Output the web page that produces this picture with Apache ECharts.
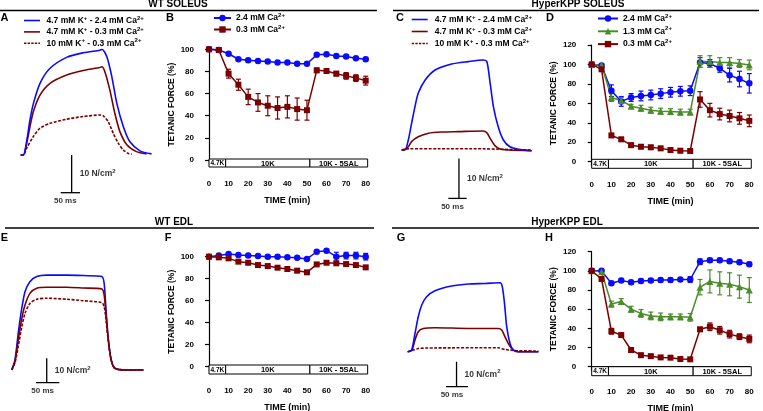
<!DOCTYPE html>
<html>
<head>
<meta charset="utf-8">
<script src="https://cdn.jsdelivr.net/npm/echarts@6/dist/echarts.min.js"></script>
<style>
  html, body { margin: 0; padding: 0; background: #fff; }
  #chart { width: 763px; height: 411px; }
</style>
</head>
<body>
<div id="chart"></div>
<script>
// --- summary data (time course, % of initial tetanic force) ---
var times = [0, 5, 10, 15, 20, 25, 30, 35, 40, 45, 50, 55, 60, 65, 70, 75, 80];

var wtSol24 = [100, 99.4, 96, 91, 90, 89.5, 89, 88, 88, 87, 87, 95, 95.5, 94, 93.4, 92, 91];
var wtSol24Err = [0, 0, 0, 0, 0, 0, 0, 0, 0, 0, 0, 0, 0, 0, 0, 0, 1.5];
var wtSol03 = [100, 99.4, 78, 68, 57, 52, 49, 47, 48, 46, 45, 81, 80.4, 78, 76, 74, 71.7];
var wtSol03Err = [0, 1, 4, 5, 7, 8, 9, 10, 10, 10, 9, 2, 2, 2, 3, 3, 4];

var kppSol24 = [100, 99, 73, 62, 66, 67.6, 68.6, 70, 71.4, 72.4, 73, 102, 101, 96, 89, 85, 80.6];
var kppSol24Err = [0, 1, 6, 5, 4, 5, 5, 5, 5, 5, 5, 5, 4, 4, 7, 8, 10];
var kppSol13 = [100, 99.5, 66, 63, 57, 55, 53, 52, 51.5, 51, 51, 103, 103, 102, 102, 101, 99.5];
var kppSol13Err = [0, 1, 4, 3, 2, 3, 3, 3, 3, 3, 3, 6, 6, 5, 5, 4, 5];
var kppSol03 = [100, 95, 27, 23, 17, 15.4, 14.8, 13.7, 12, 11.3, 11, 64, 53, 49, 47, 44.6, 42];
var kppSol03Err = [0, 2, 2, 2, 2, 2, 2, 2, 2, 2, 2, 8, 7, 6, 6, 6, 6];

var wtEdl24 = [100, 101, 102.4, 101.5, 101, 100.6, 100, 100, 99.4, 99, 98, 104.5, 105.5, 100, 101, 101, 100];
var wtEdl24Err = [0, 0, 0, 0, 0, 0, 0, 0, 0, 0, 0, 0, 0, 4, 3, 3, 3];
var wtEdl03 = [100, 99.4, 98.5, 95.5, 94.5, 92.4, 91.5, 90, 88.8, 87.3, 85.8, 93, 94.5, 94, 93.3, 92.4, 90.3];
var wtEdl03Err = [0, 0, 0, 0, 0, 0, 0, 0, 0, 0, 1.5, 0, 0, 0, 0, 0, 1.5];

var kppEdl24 = [100, 100, 87, 90, 88, 89.4, 90, 90.4, 90.4, 91, 91, 109.6, 111, 111, 110, 109, 107];
var kppEdl24Err = [0, 1, 2, 2, 2, 2, 2, 2, 2, 2, 3, 3, 2, 2, 2, 2, 2];
var kppEdl13 = [100, 99, 65.4, 68, 60, 55.6, 53, 52, 52, 52, 51.5, 83, 89, 87, 86, 83.5, 80];
var kppEdl13Err = [0, 1, 3, 3, 3, 4, 4, 4, 3, 3, 4, 8, 12, 12, 12, 12, 13];
var kppEdl03 = [100, 91.5, 37, 33, 17.4, 12, 11, 9.7, 9.4, 8, 7.7, 39, 41.7, 38, 34, 31.3, 29];
var kppEdl03Err = [0, 1, 3, 2, 2, 2, 1, 1, 1, 1, 1, 2, 4, 4, 4, 3, 4];

// solution periods under the x axis
var phaseStart = [0, 8.5, 51.5];
var phaseEnd = [8.5, 51.5, 81];
var phaseLabels = ['4.7K', '10K', '10K - 5SAL'];

// --- force traces [ms, N/cm2] ---
var aBlue = [[0,0],[7,0],[16,4],[24,9.3],[33,13.7],[50,19],[76,23],[119,25.9],[162,27.1],[205,27.8],[211,28],[223,26.1],[236,20.8],[249,13.7],[266,7.5],[283,3.5],[309,1.1],[339,0.3]];
var aRed = [[0,0],[7,0],[15.5,3.1],[24,7.5],[32.7,11.5],[50,15.9],[76,19],[119,21.2],[162,22.4],[205,23.2],[210,23.4],[218,22.1],[231,17.2],[244,11],[257,6.2],[275,2.7],[300,0.9],[326,0.3]];
var aDash = [[0,0],[7,0],[15.5,1.8],[32.7,4.9],[50,7.1],[76,8.4],[119,9.5],[162,10.2],[205,10.6],[214,10.4],[227,8.8],[240,5.7],[253,3.1],[266,1.3],[279,0.4],[288,0.2]];

var cBlue = [[0,0],[9,0],[18,2.5],[27,6.7],[36,10.8],[45,14.2],[64,17.5],[91,20],[136,21.5],[181,22.1],[222,22.5],[232,22.1],[241,16.7],[250,10.8],[263,5.8],[277,2.5],[295,0.8],[318,0.2],[354,-0.2]];
var cRed = [[0,0],[4,0],[18,0.8],[27,2.1],[45,3.3],[73,4.2],[109,4.5],[154,4.6],[222,4.75],[232,4.3],[241,2.9],[254,1.1],[268,0.25],[290,0],[354,-0.2]];
var cDash = [[0,0],[20,0.3],[100,0.3],[222,0.3],[260,0.2],[354,0]];

var eBlue = [[0,0],[7,4.1],[14,15],[21,24.6],[28.5,32.1],[39,36.2],[53.5,38.3],[75,38.9],[118,38.9],[153,38.7],[193,38.3],[198,35.5],[202,24.6],[207,12.3],[213,4.1],[221,0.7],[246,0],[282,0]];
var eRed = [[0,0],[7,3.4],[14,12.3],[21,20.5],[28.5,26.6],[39,31.4],[53.5,33.5],[75,33.9],[118,33.9],[153,33.6],[193,33.2],[198,30.7],[202,22.5],[207,12.3],[213,4.1],[221,0.7],[246,0],[282,0]];
var eDash = [[0,0],[7,3],[14,9.6],[21,17.1],[28.5,23.2],[39,27.3],[53.5,29],[75,29.4],[118,29],[153,28.4],[193,27.6],[198,26],[202,20.5],[207,11.6],[213,4.1],[221,0.7],[246,0],[282,0]];

var gBlue = [[0,0],[9,0.7],[16.6,7.3],[24,14],[32,18.7],[43,22],[62,24.4],[100,26.3],[138,27.1],[176,27.3],[210,27.6],[215,26],[220,19.3],[225,10],[232.5,3.3],[240,0.7],[251,0],[297,0]];
var gRed = [[0,0],[9,0.4],[16.6,4.7],[24,8],[35.5,9.3],[62,9.6],[138,9.3],[206,9.3],[213.6,8.7],[221,6],[228.6,3.3],[240,0.7],[251,0],[297,0]];
var gDash = [[0,0],[9,0.4],[24,1.3],[60,1.5],[206,1.6],[221,0.9],[251,0.4],[297,0.3]];

// scale bars: [x of vertical bar (ms), top of vertical bar (N/cm2), start of 50 ms bar]
var scaleA = [132, 0, 103.6];
var scaleC = [156, -2.1, 127];
var scaleE = [75, 4.8, 52];
var scaleG = [111, -4, 87];

var FONT = "'Liberation Sans', Arial, sans-serif";
var BLUE = '#0a0aff', RED = '#7d0000', GREEN = '#4b8c2a';
var ICON_SOLID = 'path://M0,0H20V2H0Z';
var ICON_DASH = 'path://M0,0h3v2h-3zM4.5,0h3v2h-3zM9,0h3v2h-3zM13.5,0h3v2h-3zM18,0h2v2h-2z';

var chart = echarts.init(document.getElementById('chart'), null, { renderer: 'canvas' });

var grids = [], xAxes = [], yAxes = [], series = [];
function addGrid(g, x, y) {
  g.outerBoundsMode = 'none';
  g.containLabel = false;
  grids.push(g);
  var i = grids.length - 1;
  x.gridIndex = i; y.gridIndex = i;
  xAxes.push(x); yAxes.push(y);
  return i;
}

var legendNames = {
  A1: ['4.7 mM K', '+', ' - 2.4 mM Ca', '2+'],
  A2: ['4.7 mM K', '+', ' - 0.3 mM Ca', '2+'],
  A3: ['10 mM K', '+', ' - 0.3 mM Ca', '2+'],
  B1: ['2.4 mM Ca', '2+'], B2: ['0.3 mM Ca', '2+'],
  C1: ['4.7 mM K', '+', ' - 2.4 mM Ca', '2+'],
  C2: ['4.7 mM K', '+', ' - 0.3 mM Ca', '2+'],
  C3: ['10 mM K', '+', ' - 0.3 mM Ca', '2+'],
  D1: ['2.4 mM Ca', '2+'], D2: ['1.3 mM Ca', '2+'], D3: ['0.3 mM Ca', '2+']
};
function legendFmt(name) {
  var p = legendNames[name] || [name];
  var s = '';
  for (var i = 0; i < p.length; i++) s += (i % 2 ? '{s|' : '{n|') + p[i] + '}';
  return s;
}
var richText = {
  n: { fontSize: 8.5, fontWeight: 'bold', fontFamily: FONT, color: '#000', lineHeight: 11 },
  s: { fontSize: 6, fontWeight: 'bold', fontFamily: FONT, color: '#000', verticalAlign: 'top', lineHeight: 7 }
};

function renderErr(params, api) {
  var x = api.value(0), y = api.value(1), e = api.value(2);
  if (!e) return null;
  var hi = api.coord([x, y + e]), lo = api.coord([x, y - e]);
  var st = { stroke: api.visual('color'), lineWidth: 1.2 };
  return { type: 'group', children: [
    { type: 'line', shape: { x1: hi[0], y1: hi[1], x2: lo[0], y2: lo[1] }, style: st },
    { type: 'line', shape: { x1: hi[0] - 2.5, y1: hi[1], x2: hi[0] + 2.5, y2: hi[1] }, style: st },
    { type: 'line', shape: { x1: lo[0] - 2.5, y1: lo[1], x2: lo[0] + 2.5, y2: lo[1] }, style: st }
  ]};
}

function renderPhase(params, api) {
  var p0 = api.coord([api.value(0), 1]);
  var p1 = api.coord([api.value(1), 0]);
  var small = params.dataIndex === 0;
  return { type: 'group', children: [
    { type: 'rect', shape: { x: p0[0], y: p0[1], width: p1[0] - p0[0], height: p1[1] - p0[1] },
      style: { fill: '#fff', stroke: '#000', lineWidth: 1 } },
    { type: 'text', x: (p0[0] + p1[0]) / 2, y: (p0[1] + p1[1]) / 2 + 0.5,
      style: { text: phaseLabels[params.dataIndex], fill: '#000',
        font: 'bold ' + (small ? 6.5 : 7.5) + 'px ' + FONT,
        align: 'center', verticalAlign: 'middle', textAlign: 'center', textVerticalAlign: 'middle' } }
  ]};
}

function summaryPanel(box, yMax, lines) {
  var axisLine = { show: true, lineStyle: { color: '#000', width: 1.2 } };
  var lbl = { color: '#000', fontSize: 8, fontWeight: 'bold', fontFamily: FONT };
  var gi = addGrid({ left: box.left, top: box.top, width: box.width, height: box.height },
    { type: 'value', min: 0, max: 80, interval: 10, offset: box.xOff,
      axisLine: axisLine, axisTick: { show: true, length: 4, lineStyle: { color: '#000', width: 1.2 } },
      axisLabel: Object.assign({ margin: 7 }, lbl), splitLine: { show: false },
      name: 'TIME (min)', nameLocation: 'middle', nameGap: 23,
      nameTextStyle: { color: '#000', fontSize: 9, fontWeight: 'bold', fontFamily: FONT } },
    { type: 'value', min: 0, max: yMax, interval: 20, offset: box.yOff,
      axisLine: axisLine, axisTick: { show: true, length: 4, lineStyle: { color: '#000', width: 1.2 } },
      axisLabel: Object.assign({ margin: 7 }, lbl), splitLine: { show: false },
      name: 'TETANIC FORCE (%)', nameLocation: 'middle', nameRotate: 90, nameGap: 25,
      nameTextStyle: { color: '#000', fontSize: 8.5, fontWeight: 'bold', fontFamily: FONT } });
  lines.forEach(function (l) {
    series.push({
      type: 'custom', xAxisIndex: gi, yAxisIndex: gi, renderItem: renderErr, clip: false,
      itemStyle: { color: l.color }, encode: { x: 0, y: 1 }, z: 2, silent: true,
      data: times.map(function (t, i) { return [t, l.vals[i], l.err[i]]; })
    });
    series.push({
      type: 'line', name: l.name, xAxisIndex: gi, yAxisIndex: gi, clip: false,
      symbol: l.symbol, symbolSize: l.size, z: 3,
      itemStyle: { color: l.color }, lineStyle: { color: l.color, width: 1.5 },
      data: times.map(function (t, i) { return [t, l.vals[i]]; })
    });
  });
  var bi = addGrid({ left: box.left, top: box.barTop, width: box.width, height: box.barH },
    { type: 'value', min: 0, max: 80, show: false },
    { type: 'value', min: 0, max: 1, show: false });
  series.push({
    type: 'custom', xAxisIndex: bi, yAxisIndex: bi, renderItem: renderPhase, silent: true, clip: false,
    encode: { x: [0, 1] },
    data: phaseStart.map(function (s, i) { return [s, phaseEnd[i]]; })
  });
}

function tracePanel(p, traces, bar) {
  var gi = addGrid({ left: p.ox, top: p.oy - p.fMax * p.pxN, width: p.tMax * p.pxMs, height: (p.fMax - p.fMin) * p.pxN },
    { type: 'value', min: 0, max: p.tMax, show: false },
    { type: 'value', min: p.fMin, max: p.fMax, show: false });
  traces.forEach(function (t) {
    series.push({
      type: 'line', name: t.name, xAxisIndex: gi, yAxisIndex: gi, symbol: 'none', smooth: 0.25, clip: false,
      itemStyle: { color: t.color },
      lineStyle: { color: t.color, width: 1.6, type: t.dash ? [3, 1.5] : 'solid' },
      data: t.data, z: t.z || 2
    });
  });
  var st = { color: '#000', width: 1.3 };
  series.push({ type: 'line', xAxisIndex: gi, yAxisIndex: gi, symbol: 'none', lineStyle: st, silent: true, clip: false,
    data: [[bar[0], bar[1]], [bar[0], bar[1] - 10]] });
  series.push({ type: 'line', xAxisIndex: gi, yAxisIndex: gi, symbol: 'none', lineStyle: st, silent: true, clip: false,
    data: [[bar[2], bar[1] - 10], [bar[2] + 50, bar[1] - 10]] });
  series.push({ type: 'scatter', xAxisIndex: gi, yAxisIndex: gi, symbolSize: 0, silent: true, clip: false,
    data: [
      { value: [bar[0], bar[1] - 5], label: { show: true, position: 'right', distance: 8,
        formatter: '{n|10 N/cm}{s|2}', rich: richText } },
      { value: [bar[2] + 25, bar[1] - 10], label: { show: true, position: 'bottom', distance: 4, offset: [-5, 0],
        formatter: '50 ms', color: '#000', fontSize: 8, fontWeight: 'bold', fontFamily: FONT } }
    ] });
}

// A
tracePanel({ ox: 20.7, oy: 155, pxMs: 0.386, pxN: 3.77, tMax: 350, fMin: -11, fMax: 30 }, [
  { name: 'A3', data: aDash, color: RED, dash: true },
  { name: 'A2', data: aRed, color: RED },
  { name: 'A1', data: aBlue, color: BLUE }
], scaleA);
// C
tracePanel({ ox: 401.7, oy: 150, pxMs: 0.367, pxN: 4.0, tMax: 360, fMin: -13, fMax: 24 }, [
  { name: 'C3', data: cDash, color: RED, dash: true, z: 3 },
  { name: 'C2', data: cRed, color: RED },
  { name: 'C1', data: cBlue, color: BLUE }
], scaleC);
// E
tracePanel({ ox: 11.7, oy: 370, pxMs: 0.467, pxN: 2.44, tMax: 290, fMin: -6, fMax: 42 }, [
  { name: 'E1', data: eBlue, color: BLUE },
  { name: 'E2', data: eRed, color: RED },
  { name: 'E3', data: eDash, color: RED, dash: true }
], scaleE);
// G
tracePanel({ ox: 407.7, oy: 351.7, pxMs: 0.44, pxN: 2.5, tMax: 300, fMin: -15, fMax: 30 }, [
  { name: 'G3', data: gDash, color: RED, dash: true },
  { name: 'G2', data: gRed, color: RED },
  { name: 'G1', data: gBlue, color: BLUE }
], scaleG);

// B
summaryPanel({ left: 209, top: 49.3, width: 156.7, height: 110.7, xOff: 13, yOff: 8, barTop: 159, barH: 8 }, 100, [
  { name: 'B1', vals: wtSol24, err: wtSol24Err, color: BLUE, symbol: 'circle', size: 6.5 },
  { name: 'B2', vals: wtSol03, err: wtSol03Err, color: RED, symbol: 'rect', size: 6 }
]);
// D
summaryPanel({ left: 591.7, top: 45, width: 157.6, height: 116.7, xOff: 12.3, yOff: 8.4, barTop: 159.3, barH: 9 }, 120, [
  { name: 'D1', vals: kppSol24, err: kppSol24Err, color: BLUE, symbol: 'circle', size: 6.5 },
  { name: 'D2', vals: kppSol13, err: kppSol13Err, color: GREEN, symbol: 'triangle', size: 7 },
  { name: 'D3', vals: kppSol03, err: kppSol03Err, color: RED, symbol: 'rect', size: 6 }
]);
// F
summaryPanel({ left: 209, top: 256.7, width: 156.7, height: 110, xOff: 13.3, yOff: 8, barTop: 365, barH: 9 }, 100, [
  { name: 'F1', vals: wtEdl24, err: wtEdl24Err, color: BLUE, symbol: 'circle', size: 6.5 },
  { name: 'F2', vals: wtEdl03, err: wtEdl03Err, color: RED, symbol: 'rect', size: 6 }
]);
// H
summaryPanel({ left: 591.7, top: 251.7, width: 157.6, height: 115, xOff: 14.3, yOff: 8.4, barTop: 366.7, barH: 9 }, 120, [
  { name: 'H1', vals: kppEdl24, err: kppEdl24Err, color: BLUE, symbol: 'circle', size: 6.5 },
  { name: 'H2', vals: kppEdl13, err: kppEdl13Err, color: GREEN, symbol: 'triangle', size: 7 },
  { name: 'H3', vals: kppEdl03, err: kppEdl03Err, color: RED, symbol: 'rect', size: 6 }
]);

function legendAt(left, top, names, itemWidth, itemHeight, gap) {
  return { left: left, top: top, orient: 'vertical', itemWidth: itemWidth, itemHeight: itemHeight, itemGap: gap,
    padding: 0, selectedMode: false, data: names, formatter: legendFmt,
    textStyle: { rich: richText } };
}

function txt(x, y, text, size, align) {
  return { type: 'text', x: x, y: y, silent: true,
    style: { text: text, fill: '#000', font: 'bold ' + size + 'px ' + FONT,
      align: align || 'center', verticalAlign: 'middle', textAlign: align || 'center', textVerticalAlign: 'middle' } };
}
function rule(x1, x2, y) {
  return { type: 'line', silent: true, shape: { x1: x1, y1: y, x2: x2, y2: y }, style: { stroke: '#000', lineWidth: 1.3 } };
}

var traceLegendA = [{ name: 'A1', icon: ICON_SOLID }, { name: 'A2', icon: ICON_SOLID }, { name: 'A3', icon: ICON_DASH }];
var traceLegendC = [{ name: 'C1', icon: ICON_SOLID }, { name: 'C2', icon: ICON_SOLID }, { name: 'C3', icon: ICON_DASH }];

chart.setOption({
  animation: false,
  backgroundColor: '#fff',
  textStyle: { fontFamily: FONT },
  grid: grids,
  xAxis: xAxes,
  yAxis: yAxes,
  legend: [
    legendAt(24, 15, traceLegendA, 19, 1.6, 1.4),
    legendAt(213, 12.5, ['B1', 'B2'], 17, 8, 1.5),
    legendAt(411.7, 14, traceLegendC, 20, 1.6, 2),
    legendAt(597, 13, ['D1', 'D2', 'D3'], 20, 8, 2.8)
  ],
  graphic: [
    rule(0, 377, 10.5), rule(393, 759, 10.5), rule(5, 374, 228), rule(392, 759, 228),
    txt(178, 4.5, 'WT SOLEUS', 10), txt(578, 4.5, 'HyperKPP SOLEUS', 10),
    txt(174, 222, 'WT EDL', 10), txt(567, 222, 'HyperKPP EDL', 10),
    txt(4.5, 18, 'A', 11), txt(170, 18, 'B', 11), txt(400, 18, 'C', 11), txt(550, 18, 'D', 11),
    txt(4.5, 238, 'E', 11), txt(168, 238, 'F', 11), txt(401, 238, 'G', 11), txt(549, 238, 'H', 11)
  ],
  series: series
});
</script>
</body>
</html>
